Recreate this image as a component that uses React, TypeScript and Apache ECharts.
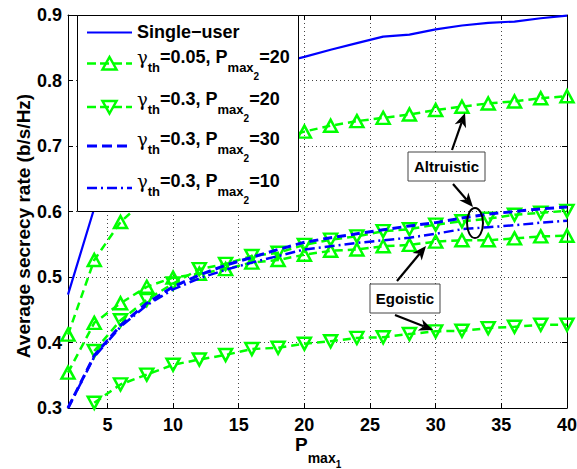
import React, { useEffect, useRef } from 'react';
import * as echarts from 'echarts';

const xValues = [2, 4, 6, 8, 10, 12, 14, 16, 18, 20, 22, 24, 26, 28, 30, 32, 34, 36, 38, 40];
const singleUser = [0.473, 0.605, 0.675, 0.72, 0.75, 0.775, 0.795, 0.812, 0.826, 0.836, 0.847, 0.857, 0.867, 0.87, 0.878, 0.884, 0.888, 0.89, 0.895, 0.899];
const altruisticG005 = [0.412, 0.526, 0.584, 0.62, 0.645, 0.665, 0.682, 0.697, 0.71, 0.722, 0.731, 0.738, 0.743, 0.748, 0.755, 0.76, 0.765, 0.768, 0.773, 0.776];
const egoisticG005 = [0.354, 0.43, 0.46, 0.485, 0.499, 0.505, 0.512, 0.522, 0.526, 0.534, 0.54, 0.542, 0.547, 0.549, 0.554, 0.556, 0.556, 0.559, 0.562, 0.563];
const altruisticG03 = [null, 0.387, 0.434, 0.465, 0.49, 0.512, 0.52, 0.532, 0.537, 0.549, 0.557, 0.562, 0.57, 0.573, 0.58, 0.585, 0.589, 0.595, 0.598, 0.601];
const egoisticG03 = [null, 0.308, 0.336, 0.351, 0.366, 0.374, 0.381, 0.39, 0.392, 0.398, 0.402, 0.407, 0.408, 0.413, 0.417, 0.418, 0.422, 0.424, 0.427, 0.427];
const pmax30 = [0.3, 0.38, 0.426, 0.46, 0.485, 0.503, 0.518, 0.53, 0.542, 0.553, 0.56, 0.566, 0.572, 0.578, 0.583, 0.59, 0.596, 0.6, 0.604, 0.607];
const pmax10 = [0.3, 0.378, 0.424, 0.457, 0.481, 0.498, 0.511, 0.522, 0.532, 0.542, 0.547, 0.552, 0.556, 0.56, 0.566, 0.573, 0.576, 0.579, 0.583, 0.586];

const xTickValues = [5, 10, 15, 20, 25, 30, 35, 40];

const legendNames = ['Single−user', 'γth=0.05, Pmax2=20', 'γth=0.3, Pmax2=20', 'γth=0.3, Pmax2=30', 'γth=0.3, Pmax2=10'];
const legendGamma = ['', '0.05', '0.3', '0.3', '0.3'];
const legendPmax2 = ['', '20', '20', '30', '10'];

const FONT = '"Liberation Sans", Arial, Helvetica, sans-serif';
const GREEN = '#00ff00';
const BLUE = '#0000ff';

function toPairs(ys: (number | null)[]) {
  const out: [number, number][] = [];
  ys.forEach((y, i) => {
    if (y !== null) out.push([xValues[i], y]);
  });
  return out;
}

function arrow(x1: number, y1: number, x2: number, y2: number) {
  const dx = x2 - x1;
  const dy = y2 - y1;
  const len = Math.hypot(dx, dy);
  const ux = dx / len;
  const uy = dy / len;
  const px = -uy;
  const py = ux;
  const L = 14;
  const W = 6;
  const N = 10;
  const bx = x2 - ux * L;
  const by = y2 - uy * L;
  return [
    {
      type: 'line',
      shape: { x1, y1, x2: x2 - ux * N, y2: y2 - uy * N },
      style: { stroke: '#000', lineWidth: 2.2 },
      z: 100,
    },
    {
      type: 'polygon',
      shape: {
        points: [
          [x2, y2],
          [bx + px * W, by + py * W],
          [x2 - ux * N, y2 - uy * N],
          [bx - px * W, by - py * W],
        ],
      },
      style: { fill: '#000' },
      z: 100,
    },
  ];
}

function labelBox(x: number, y: number, w: number, h: number, text: string) {
  return [
    {
      type: 'rect',
      shape: { x, y, width: w, height: h },
      style: { fill: '#fff', stroke: '#444', lineWidth: 1 },
      z: 100,
    },
    {
      type: 'text',
      x: x + w / 2,
      y: y + h / 2,
      style: {
        text,
        fill: '#000',
        font: `bold 15px ${FONT}`,
        align: 'center',
        verticalAlign: 'middle',
        textAlign: 'center',
        textVerticalAlign: 'middle',
      },
      z: 101,
    },
  ];
}

const richLegend = {
  n: { fontSize: 18, fontWeight: 'bold', fontFamily: FONT, fill: '#000', lineHeight: 20, verticalAlign: 'top' },
  g: { fontSize: 18, fontWeight: 'normal', fontFamily: '"DejaVu Serif", "DejaVu Sans", serif', fontStyle: 'normal', fill: '#000', lineHeight: 20, verticalAlign: 'top' },
  s: { fontSize: 13, fontWeight: 'bold', fontFamily: FONT, fill: '#000', lineHeight: 14, padding: [13, 0, 0, 0], verticalAlign: 'top' },
  ss: { fontSize: 10, fontWeight: 'bold', fontFamily: FONT, fill: '#000', lineHeight: 11, padding: [23.5, 0, 0, 0], verticalAlign: 'top' },
};

function legendLabel(i: number) {
  if (i === 0) return `{n|${legendNames[0]}}`;
  return `{g|γ}{s|th}{n|=${legendGamma[i]}, P}{s|max}{ss|2}{n|=${legendPmax2[i]}}`;
}

// legend key layout (pixels)
const LEG_X = 77;
const LEG_Y = 15;
const LEG_W = 221;
const LEG_H = 196;
const KEY_X0 = 87;
const KEY_X1 = 132;
const TEXT_X = 137;
const keyY = [32.5, 63.5, 107, 146, 188];
const textCenterY = [33, 58, 100, 140, 182];
const keyDash: (number[] | null)[] = [null, [9, 4], [9, 4], [10, 5], [10, 4, 2, 4]];
const keyWidth = [2.2, 2.5, 2.5, 3, 2.5];
const keyColor = [BLUE, GREEN, GREEN, BLUE, BLUE];
const keyMarker = ['', 'up', 'down', '', ''];

function buildLegend() {
  const els: any[] = [
    {
      type: 'rect',
      shape: { x: LEG_X + 0.5, y: LEG_Y + 0.5, width: LEG_W, height: LEG_H },
      style: { fill: '#fff', stroke: '#000', lineWidth: 1 },
      z: 50,
    },
  ];
  for (let i = 0; i < legendNames.length; i++) {
    const y = keyY[i];
    els.push({
      type: 'line',
      shape: { x1: KEY_X0, y1: y, x2: KEY_X1, y2: y },
      style: { stroke: keyColor[i], lineWidth: keyWidth[i], lineDash: keyDash[i] || undefined },
      z: 51,
    });
    const cx = (KEY_X0 + KEY_X1) / 2;
    if (keyMarker[i] === 'up') {
      els.push({
        type: 'polygon',
        shape: { points: [[cx, y - 6.5], [cx + 7, y + 6], [cx - 7, y + 6]] },
        style: { fill: 'none', stroke: GREEN, lineWidth: 2.5 },
        z: 52,
      });
    } else if (keyMarker[i] === 'down') {
      els.push({
        type: 'polygon',
        shape: { points: [[cx, y + 6.5], [cx + 7, y - 6], [cx - 7, y - 6]] },
        style: { fill: 'none', stroke: GREEN, lineWidth: 2.5 },
        z: 52,
      });
    }
    els.push({
      type: 'text',
      x: TEXT_X,
      y: textCenterY[i] - 10,
      style: {
        text: legendLabel(i),
        align: 'left',
        verticalAlign: 'top',
        textAlign: 'left',
        textVerticalAlign: 'top',
        rich: richLegend,
      },
      z: 52,
    });
  }
  return els;
}

const markerStyle = (rotate: number) => ({
  symbol: 'triangle',
  symbolSize: [13, 12],
  symbolRotate: rotate,
  itemStyle: { color: 'rgba(0,0,0,0)', borderColor: GREEN, borderWidth: 2.5 },
});

export default function App() {
  const ref = useRef<HTMLDivElement>(null);

  useEffect(() => {
    if (!ref.current) return;
    const chart = echarts.init(ref.current, null, { renderer: 'svg' });

    const greenLine = { color: GREEN, width: 2.5, type: [8, 5] };

    const series: any[] = [
      { name: legendNames[1], type: 'line', data: toPairs(altruisticG005), ...markerStyle(0), lineStyle: greenLine, z: 3 },
      { name: legendNames[1], type: 'line', data: toPairs(egoisticG005), ...markerStyle(0), lineStyle: greenLine, z: 3 },
      { name: legendNames[2], type: 'line', data: toPairs(altruisticG03), ...markerStyle(180), lineStyle: greenLine, z: 3 },
      { name: legendNames[2], type: 'line', data: toPairs(egoisticG03), ...markerStyle(180), lineStyle: greenLine, z: 3 },
      {
        name: legendNames[3],
        type: 'line',
        data: toPairs(pmax30),
        symbol: 'none',
        itemStyle: { color: BLUE },
        lineStyle: { color: BLUE, width: 3, type: [9, 5] },
        z: 4,
      },
      {
        name: legendNames[4],
        type: 'line',
        data: toPairs(pmax10),
        symbol: 'none',
        itemStyle: { color: BLUE },
        lineStyle: { color: BLUE, width: 2.5, type: [10, 4, 2, 4] },
        z: 4,
      },
      {
        name: legendNames[0],
        type: 'line',
        data: toPairs(singleUser),
        symbol: 'none',
        itemStyle: { color: BLUE },
        lineStyle: { color: BLUE, width: 2.2, type: 'solid' },
        z: 4,
      },
    ];

    const option: any = {
      animation: false,
      backgroundColor: '#fff',
      textStyle: { fontFamily: FONT },
      grid: { left: 68, right: 10, top: 15, bottom: 61, containLabel: false, outerBoundsMode: 'none' },
      xAxis: [
        {
          type: 'value',
          min: 2,
          max: 40,
          position: 'bottom',
          axisLine: { show: true, onZero: false, lineStyle: { color: '#000', width: 1 } },
          axisTick: { show: true, inside: true, length: 5, customValues: xTickValues, lineStyle: { color: '#000' } },
          axisLabel: {
            show: true,
            customValues: xTickValues,
            margin: 8,
            color: '#000',
            fontSize: 18,
            fontWeight: 'bold',
            fontFamily: FONT,
          },
          splitLine: { show: true, lineStyle: { color: '#444', width: 1, type: [1, 3] } },
        },
        {
          type: 'value',
          min: 2,
          max: 40,
          position: 'top',
          axisLine: { show: true, onZero: false, lineStyle: { color: '#000', width: 1 } },
          axisTick: { show: true, inside: true, length: 5, customValues: xTickValues, lineStyle: { color: '#000' } },
          axisLabel: { show: false },
          splitLine: { show: false },
        },
      ],
      yAxis: [
        {
          type: 'value',
          min: 0.3,
          max: 0.9,
          interval: 0.1,
          position: 'left',
          axisLine: { show: true, onZero: false, lineStyle: { color: '#000', width: 1 } },
          axisTick: { show: true, inside: true, length: 5, lineStyle: { color: '#000' } },
          axisLabel: {
            margin: 6,
            color: '#000',
            fontSize: 18,
            fontWeight: 'bold',
            fontFamily: FONT,
            formatter: (v: number) => v.toFixed(1),
          },
          splitLine: { show: true, lineStyle: { color: '#444', width: 1, type: [1, 3] } },
        },
        {
          type: 'value',
          min: 0.3,
          max: 0.9,
          interval: 0.1,
          position: 'right',
          axisLine: { show: true, onZero: false, lineStyle: { color: '#000', width: 1 } },
          axisTick: { show: true, inside: true, length: 5, lineStyle: { color: '#000' } },
          axisLabel: { show: false },
          splitLine: { show: false },
        },
      ],
      series,
      graphic: [
        {
          type: 'text',
          x: 23,
          y: 226,
          rotation: Math.PI / 2,
          style: {
            text: 'Average secrecy rate (b/s/Hz)',
            fill: '#000',
            font: `bold 19px ${FONT}`,
            align: 'center',
            verticalAlign: 'middle',
            textAlign: 'center',
            textVerticalAlign: 'middle',
          },
        },
        {
          type: 'text',
          x: 295,
          y: 435,
          style: {
            text: '{p|P}{s|max}{ss|1}',
            align: 'left',
            verticalAlign: 'top',
            textAlign: 'left',
            textVerticalAlign: 'top',
            rich: {
              p: { fontSize: 19, fontWeight: 'bold', fontFamily: FONT, fill: '#000', lineHeight: 20, verticalAlign: 'top' },
              s: { fontSize: 14, fontWeight: 'bold', fontFamily: FONT, fill: '#000', lineHeight: 15, padding: [15.5, 0, 0, 0], verticalAlign: 'top' },
              ss: { fontSize: 10, fontWeight: 'bold', fontFamily: FONT, fill: '#000', lineHeight: 11, padding: [24, 0, 0, 0], verticalAlign: 'top' },
            },
          },
        },
        ...buildLegend(),
        ...labelBox(408, 152, 77, 29, 'Altruistic'),
        ...labelBox(370, 284, 70, 29, 'Egoistic'),
        ...arrow(452, 150, 465, 113),
        ...arrow(453, 184, 473, 207),
        ...arrow(397, 281, 426, 246),
        ...arrow(395, 315, 433, 330),
        {
          type: 'ellipse',
          shape: { cx: 475, cy: 223, rx: 8, ry: 15 },
          style: { fill: 'none', stroke: '#000', lineWidth: 2 },
          z: 100,
        },
      ],
    };

    chart.setOption(option);
    return () => chart.dispose();
  }, []);

  return (
    <div
      ref={ref}
      style={{ position: 'fixed', left: 0, top: 0, width: 577, height: 469, background: '#fff' }}
    />
  );
}
